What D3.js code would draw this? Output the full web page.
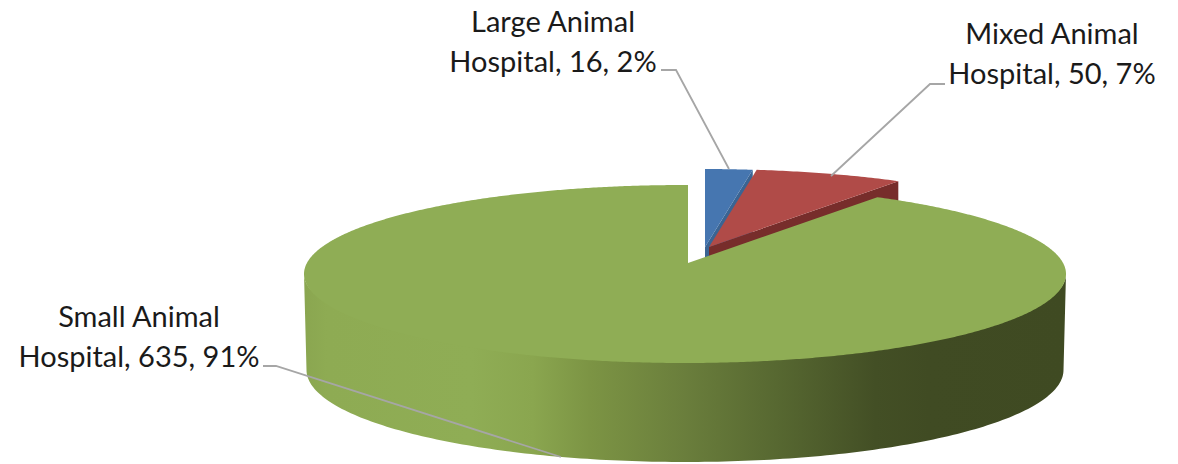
<!DOCTYPE html>
<html><head><meta charset="utf-8">
<script src="https://cdn.jsdelivr.net/npm/d3@7"></script>
<style>html,body{margin:0;padding:0;background:#fff}svg{display:block}</style>
</head><body><svg width="1178" height="464"></svg>
<script>
const categories = ["Large Animal Hospital", "Mixed Animal Hospital", "Small Animal Hospital"];
const values = [16, 50, 635];
const percents = ["2%", "7%", "91%"];
const labelLines = [["Large Animal", "Hospital, 16, 2%"], ["Mixed Animal", "Hospital, 50, 7%"], ["Small Animal", "Hospital, 635, 91%"]];
const topColors = ["#4676B0", "#B04B48", "#8FAD55"];
const sideColors = ["#3A6493", "#772D2B", "#8FAD55"];
const explode = [[17, -16], [21, -16], [0, 0]];
const labelAnchors = [[553, 32], [1052, 44], [139, 327]];
const leaders = [
  [[661, 70], [676, 70], [729, 169]],
  [[945, 84], [930, 84], [831, 176]],
  [[263, 366], [276, 366], [561, 457]]
];
const wallStops = [[0, "#8AA650"], [0.03, "#8EAB53"], [0.22, "#8FAD55"], [0.3, "#8AA64F"], [0.375, "#7C9444"], [0.5, "#6A7E3C"], [0.62, "#576831"], [0.75, "#434F25"], [0.82, "#404B23"], [1, "#3F4A22"]];

const svg = d3.select("svg");
const cx = 685, cy = 274, rx = 381, ry = 89;
const apex = [688, 263], depth = 98;
const bottom = {cx: 685, cy: 370, rx: 378.5, ry: 92};

const pie = d3.pie().sort(null).startAngle(0).endAngle(2 * Math.PI);
const arcs = pie(values);

// Rim point: ray from the off-centre apex, at the pie angle, meeting the top ellipse.
function rim(a) {
  const px = (apex[0] - cx) / rx, py = (apex[1] - cy) / ry;
  const dx = Math.sin(a), dy = -Math.cos(a);
  const b = px * dx + py * dy;
  const s = -b + Math.sqrt(b * b - (px * px + py * py) + 1);
  return [apex[0] + s * dx * rx, apex[1] + s * dy * ry];
}
const line = d3.line();
const range = (a0, a1, n = 240) => d3.range(n + 1).map(i => a0 + (a1 - a0) * i / n);

const defs = svg.append("defs");
const grad = defs.append("linearGradient").attr("id", "wall")
  .attr("gradientUnits", "userSpaceOnUse")
  .attr("x1", cx - rx).attr("x2", cx + rx).attr("y1", 0).attr("y2", 0);
grad.selectAll("stop").data(wallStops).join("stop")
  .attr("offset", d => d[0]).attr("stop-color", d => d[1]);

// Exploded slices first, green over them
[0, 1].forEach(i => {
  const d = arcs[i], [ox, oy] = explode[i];
  const g = svg.append("g").attr("transform", `translate(${ox},${oy})`);
  const e = rim(d.endAngle);
  g.append("path").attr("fill", sideColors[i])
    .attr("d", line([apex, e, [e[0], e[1] + depth], [apex[0], apex[1] + depth]]) + "Z");
  g.append("path").attr("fill", topColors[i])
    .attr("d", line([apex, ...range(d.startAngle, d.endAngle, 40).map(rim)]) + "Z");
});

// Green outer wall (its upper edge tucks under the top face so no seam shows)
const upper = d3.range(0, 181).map(i => {
  const t = Math.PI * i / 180;
  return [cx + rx * Math.cos(t), cy + (ry - 5) * Math.sin(t)];
});
const lower = d3.range(180, -1, -1).map(i => {
  const t = Math.PI * i / 180;
  return [bottom.cx + bottom.rx * Math.cos(t), bottom.cy + bottom.ry * Math.sin(t)];
});
svg.append("path").attr("fill", "url(#wall)").attr("d", line([...upper, ...lower]) + "Z");

// Green top
const big = arcs[2];
svg.append("path").attr("fill", topColors[2])
  .attr("d", line([apex, ...range(big.startAngle, big.endAngle, 720).map(rim)]) + "Z");

// Leader lines
svg.selectAll("path.leader").data(leaders).join("path").attr("class", "leader")
  .attr("d", d => line(d)).attr("fill", "none").attr("stroke", "#A6A6A6").attr("stroke-width", 1.8);

// Labels
const text = svg.selectAll("text.label").data(labelLines).join("text").attr("class", "label")
  .attr("text-anchor", "middle")
  .attr("font-family", "Lato, 'Open Sans', sans-serif")
  .attr("font-size", 29).attr("fill", "#1a1a1a");
text.each(function (d, i) {
  d3.select(this).selectAll("tspan").data(d).join("tspan")
    .attr("x", labelAnchors[i][0]).attr("y", (_, j) => labelAnchors[i][1] + j * 39.5)
    .text(t => t);
});
</script></body></html>
